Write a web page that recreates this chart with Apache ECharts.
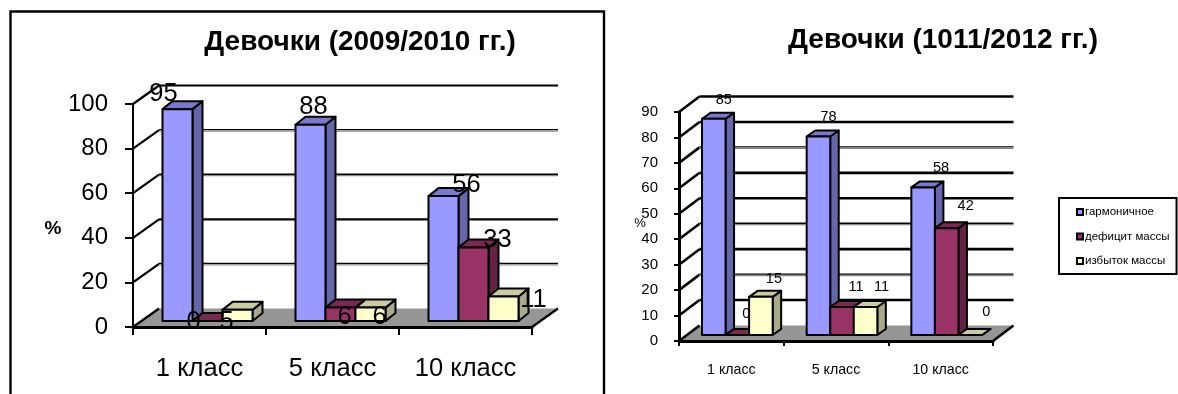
<!DOCTYPE html>
<html>
<head>
<meta charset="utf-8">
<title>Девочки</title>
<style>html,body{margin:0;padding:0;background:#fff}#chart{width:1178px;height:394px}</style>
<script src="https://cdn.jsdelivr.net/npm/echarts@6/dist/echarts.min.js"></script>
</head>
<body>
<div id="chart"></div>
<script>
// School health survey: share of girls per grade, two survey periods.
const categories = ['1 класс', '5 класс', '10 класс'];
const seriesNames = ['гармоничное', 'дефицит массы', 'избыток массы'];

const harmonic2010 = [95, 88, 56];
const deficit2010 = [0, 6, 33];
const excess2010 = [5, 6, 11];

const harmonic2012 = [85, 78, 58];
const deficit2012 = [0, 11, 42];
const excess2012 = [15, 11, 0];

const ticks2010 = [0, 20, 40, 60, 80, 100];
const ticks2012 = [0, 10, 20, 30, 40, 50, 60, 70, 80, 90];

// Front / top / side shades of each column colour.
const shades = [
  { front: '#9999ff', top: '#7a7acc', side: '#6666aa' },
  { front: '#993366', top: '#7a2952', side: '#662244' },
  { front: '#ffffcc', top: '#ccccA3', side: '#aaaa88' }
];

// Pseudo-3D layout of each panel, and hand-placed value label offsets per series.
const panels = [
  {
    grid: { left: 133, top: 104, width: 399, height: 223 },
    floor: [26, -18.5], face: [8, -6], depth: [10, -8], barRatio: 0.2256,
    max: 100, interval: 20, ticks: ticks2010, softTicks: [80, 60, 20],
    values: [harmonic2010, deficit2010, excess2010],
    labelFont: 25.5, valueAxisFont: 24, categoryFont: 25.5,
    axisWidth: 2, gridWidth: 2.2, tickLen: 8, labelMargin: 29, valueMargin: 25,
    shiftX: [[-14, 3, 23], [-14, 4, 24], [-11, 9, 30]],
    shiftY: [[-15, -18, -11], [1, 9, -7], [12, 9, 3]]
  },
  {
    grid: { left: 679, top: 112, width: 314, height: 229 },
    floor: [20.5, -15.5], face: [6, -6], depth: [8.5, -6], barRatio: 0.225,
    max: 90, interval: 10, ticks: ticks2012, softTicks: [70, 40, 20],
    values: [harmonic2012, deficit2012, excess2012],
    labelFont: 14.5, valueAxisFont: 15, categoryFont: 14.2,
    axisWidth: 3, gridWidth: 2.6, tickLen: 5, labelMargin: 22, valueMargin: 21,
    shiftX: [[10, 10, 18], [9, 14, 19], [13, 16, 16]],
    shiftY: [[-19, -20, -19], [-21, -20, -22], [-18, -20, -23]]
  }
];

const FONT = '"Liberation Sans", Arial, sans-serif';

function wallRenderer(p) {
  return function (params, api) {
    const v = api.value(1);
    const band = api.size([1, 0])[0];
    const left = api.coord([0, v])[0] - band / 2;
    const right = api.coord([categories.length - 1, v])[0] + band / 2;
    const y = api.coord([0, v])[1];
    const bx = p.floor[0], by = p.floor[1];
    const stroke = { stroke: '#000', lineWidth: p.gridWidth, fill: null };
    const diagonal = { type: 'line', shape: { x1: left, y1: y, x2: left + bx, y2: y + by }, style: stroke };
    if (v === 0) {
      return {
        type: 'group',
        children: [
          { type: 'polygon', shape: { points: [[left, y], [right, y], [right + bx, y + by], [left + bx, y + by]] },
            style: { fill: '#969696', stroke: null } },
          diagonal,
          { type: 'line', shape: { x1: right, y1: y, x2: right + bx, y2: y + by }, style: stroke }
        ]
      };
    }
    const yBack = y + by;
    const x0 = left + bx, x1 = right + bx;
    const children = [diagonal];
    if (p.softTicks.indexOf(v) >= 0) {
      // These wall lines fade to grey along their lower edge.
      children.push(
        { type: 'line', shape: { x1: x0, y1: yBack - 0.5, x2: x1, y2: yBack - 0.5 }, style: { stroke: '#000', lineWidth: 1.4 } },
        { type: 'line', shape: { x1: x0, y1: yBack + 1, x2: x1, y2: yBack + 1 }, style: { stroke: '#888', lineWidth: 1.2 } }
      );
    } else {
      children.push({ type: 'line', shape: { x1: x0, y1: yBack, x2: x1, y2: yBack }, style: stroke });
    }
    return { type: 'group', children: children };
  };
}

function columnRenderer(p, s) {
  const shade = shades[s];
  return function (params, api) {
    const c = api.value(0), v = api.value(1);
    const band = api.size([1, 0])[0];
    const w = band * p.barRatio;
    const base = api.coord([c, 0]);
    const tip = api.coord([c, v]);
    const x0 = base[0] - 1.5 * w + s * w + p.face[0];
    const x1 = x0 + w;
    const yb = base[1] + p.face[1];
    const yt = tip[1] + p.face[1];
    const dx = p.depth[0], dy = p.depth[1];
    const line = { stroke: '#000', lineWidth: 2, lineJoin: 'round' };
    return {
      type: 'group',
      children: [
        { type: 'polygon', shape: { points: [[x1, yb], [x1 + dx, yb + dy], [x1 + dx, yt + dy], [x1, yt]] },
          style: Object.assign({ fill: shade.side }, line) },
        { type: 'polygon', shape: { points: [[x0, yt], [x1, yt], [x1 + dx, yt + dy], [x0 + dx, yt + dy]] },
          style: Object.assign({ fill: shade.top }, line) },
        { type: 'rect', shape: { x: x0, y: yt, width: w, height: yb - yt },
          style: Object.assign({ fill: shade.front }, line) },
        { type: 'text', z2: 100,
          style: { text: String(v), x: x0 + w / 2 + p.shiftX[s][c], y: yt + p.shiftY[s][c],
                   fill: '#000', align: 'center', verticalAlign: 'middle',
                   font: p.labelFont + 'px ' + FONT } }
      ]
    };
  };
}

const grids = [], xAxes = [], yAxes = [], series = [];
panels.forEach(function (p, i) {
  grids.push(Object.assign({ containLabel: false }, p.grid));
  xAxes.push({
    type: 'category', gridIndex: i, data: categories, z: 10,
    axisLine: { lineStyle: { color: '#000', width: 3 } },
    axisTick: { show: true, length: p.tickLen, lineStyle: { color: '#000', width: 2 } },
    axisLabel: { color: '#000', fontSize: p.categoryFont, fontFamily: FONT, margin: p.labelMargin, interval: 0 },
    splitLine: { show: false }
  });
  yAxes.push({
    type: 'value', gridIndex: i, min: 0, max: p.max, interval: p.interval, z: 10,
    axisLine: { show: true, lineStyle: { color: '#000', width: p.axisWidth } },
    axisTick: { show: true, length: p.tickLen, lineStyle: { color: '#000', width: 2 } },
    axisLabel: { color: '#000', fontSize: p.valueAxisFont, fontFamily: FONT, margin: p.valueMargin },
    splitLine: { show: false }
  });
  series.push({
    type: 'custom', xAxisIndex: i, yAxisIndex: i, silent: true, z: 1,
    renderItem: wallRenderer(p), clip: false,
    data: p.ticks.map(function (t) { return [0, t]; })
  });
  p.values.forEach(function (vals, s) {
    series.push({
      type: 'custom', name: seriesNames[s], xAxisIndex: i, yAxisIndex: i, z: 2,
      renderItem: columnRenderer(p, s), clip: false,
      itemStyle: { color: shades[s].front },
      data: vals.map(function (v, c) { return [c, v]; })
    });
  });
});

const chart = echarts.init(document.getElementById('chart'), null, { renderer: 'canvas' });
chart.setOption({
  backgroundColor: '#fff',
  animation: false,
  title: [
    { text: 'Девочки (2009/2010 гг.)', left: 360, top: 42, padding: 0, textAlign: 'center', textVerticalAlign: 'middle',
      textStyle: { fontFamily: FONT, fontWeight: 'bold', fontSize: 28, color: '#000' } },
    { text: 'Девочки (1011/2012 гг.)', left: 943, top: 40, padding: 0, textAlign: 'center', textVerticalAlign: 'middle',
      textStyle: { fontFamily: FONT, fontWeight: 'bold', fontSize: 28, color: '#000' } },
    { text: '%', left: 53, top: 229, padding: 0, textAlign: 'center', textVerticalAlign: 'middle',
      textStyle: { fontFamily: FONT, fontWeight: 'bold', fontSize: 19, color: '#000' } },
    { text: '%', left: 640, top: 223, padding: 0, textAlign: 'center', textVerticalAlign: 'middle',
      textStyle: { fontFamily: FONT, fontWeight: 'normal', fontSize: 13, color: '#000' } }
  ],
  legend: {
    orient: 'vertical', left: 1059, top: 198, width: 116,
    data: seriesNames, icon: 'rect', itemWidth: 6, itemHeight: 6, itemGap: 12.5,
    padding: [8, 7, 7, 17], backgroundColor: '#fff',
    borderColor: '#000', borderWidth: 2, selectedMode: false,
    itemStyle: { borderColor: '#000', borderWidth: 2 },
    textStyle: { fontFamily: FONT, fontSize: 11.5, color: '#000', padding: [0, 0, 0, -3] }
  },
  grid: grids,
  xAxis: xAxes,
  yAxis: yAxes,
  series: series,
  graphic: [
    { type: 'polyline', silent: true, z: 20,
      shape: { points: [[10.5, 394], [10.5, 11.5], [604, 11.5], [604, 394]] },
      style: { stroke: '#000', lineWidth: 2.4, fill: null } }
  ]
});
</script>
</body>
</html>
